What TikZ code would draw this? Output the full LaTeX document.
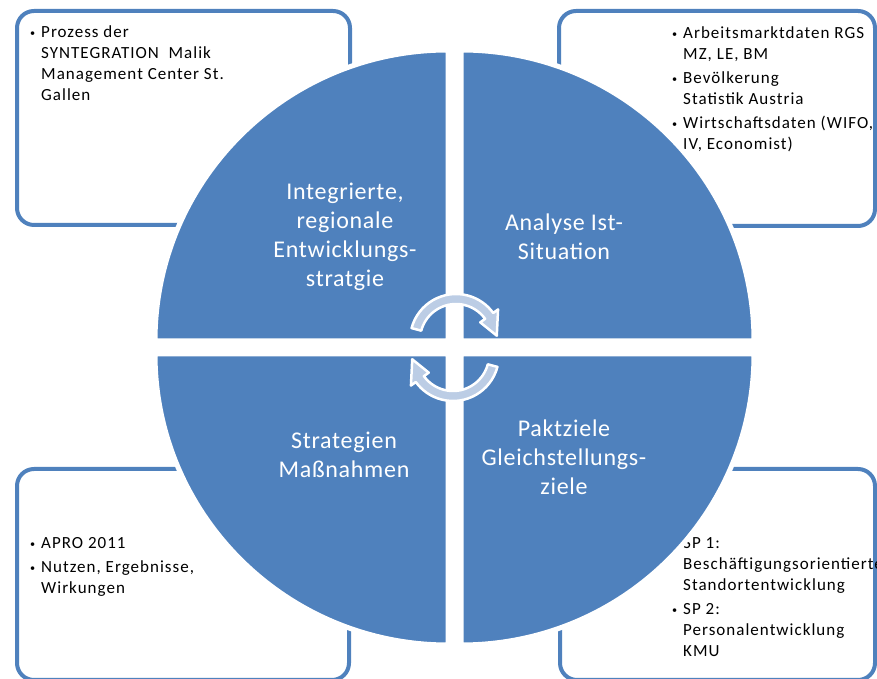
\documentclass[tikz,border=0pt]{standalone}
\usepackage{fontspec}
\setmainfont{Carlito}
\newfontfamily\kastenschrift{Carlito}[LetterSpace=6]
\newfontfamily\kreisschrift{Carlito}[LetterSpace=3]
\usetikzlibrary{calc}

\definecolor{kreisblau}{RGB}{79,129,189}
\definecolor{pfeilblau}{RGB}{188,205,229}

% Aufzaehlungspunkt
\newcommand{\punkt}{\hspace*{1pt}\raisebox{1pt}{\scalebox{0.6}{\textbullet}}}

\begin{document}
\begin{tikzpicture}[x=1pt,y=1pt,
  kasten/.style={draw=kreisblau, line width=4pt, fill=white, rounded corners=17pt},
  kastentext/.style={anchor=north west, inner sep=0pt,
    font={\kastenschrift\fontsize{17}{21}\selectfont}},
  viertel/.style={fill=kreisblau, draw=white, line width=5pt},
  quadtext/.style={text=white, align=center, font={\kreisschrift\fontsize{24}{29}\selectfont}},
  pfeil/.style={fill=pfeilblau, draw=white, line width=2.5pt, line join=round},
  kreispfeil/.pic={
    \draw[pfeil] (165:46) arc[start angle=165, end angle=36, radius=46] -- (36:52)
      -- (6:41) -- (36:30) -- (36:36) arc[start angle=36, end angle=165, radius=36] -- cycle;
  }]
\useasboundingbox (0,0) rectangle (877,679);

% Kaesten in den Ecken
\draw[kasten] (17,454) rectangle (350,668);
\draw[kasten] (559,453) rectangle (875,668);
\draw[kasten] (17,-1) rectangle (349,210);
\draw[kasten] (560,-1) rectangle (875,210);

\node[kastentext] (methode) at (29,656) {\begin{tabular}{@{}p{12pt}@{}l@{}}
  \punkt & Prozess der\\
         & SYNTEGRATION\ \ Malik\\
         & Management Center St.\\
         & Gallen
  \end{tabular}};
\node[kastentext] (daten) at (671,655) {\begin{tabular}{@{}p{12pt}@{}l@{}}
  \punkt & Arbeitsmarktdaten RGS\\
         & MZ, LE, BM\\[3pt]
  \punkt & Bev\"olkerung\\
         & Statistik Austria\\[3pt]
  \punkt & Wirtschaftsdaten (WIFO,\\
         & IV, Economist)
  \end{tabular}};
\node[kastentext] (apro) at (29,145) {\begin{tabular}{@{}p{12pt}@{}l@{}}
  \punkt & APRO 2011\\[3pt]
  \punkt & Nutzen, Ergebnisse,\\
         & Wirkungen
  \end{tabular}};
\node[kastentext] (sp) at (671,145) {\begin{tabular}{@{}p{12pt}@{}l@{}}
  \punkt & SP 1:\\
         & Besch\"aftigungsorientierte\\
         & Standortentwicklung\\[3pt]
  \punkt & SP 2:\\
         & Personalentwicklung\\
         & KMU
  \end{tabular}};

% Kreis aus vier Vierteln
\coordinate (M) at (454.5,331.5);
\foreach \w/\sx/\sy in {0/1/1, 90/-1/1, 180/-1/-1, 270/1/-1}
  \draw[viertel] ($(M)+(\sx*6.5,\sy*6.5)$) -- ++({293*cos(\w)},{291*sin(\w)})
    arc[start angle=\w, end angle=\w+90, x radius=293, y radius=291] -- cycle;

\node[quadtext] (strategie) at (345,442) {Integrierte,\\regionale\\Entwicklungs-\\stratgie};
\node[quadtext] (analyse) at (564,442) {Analyse Ist-\\Situation};
\node[quadtext] (massnahmen) at (344,224) {Strategien\\Ma\ss nahmen};
\node[quadtext] (paktziele) at (564,222) {Paktziele\\Gleichstellungs-\\ziele};

% Kreislaufpfeile
\pic at (456,339) {kreispfeil};
\pic[rotate=180] at (453,324) {kreispfeil};
\end{tikzpicture}
\end{document}
